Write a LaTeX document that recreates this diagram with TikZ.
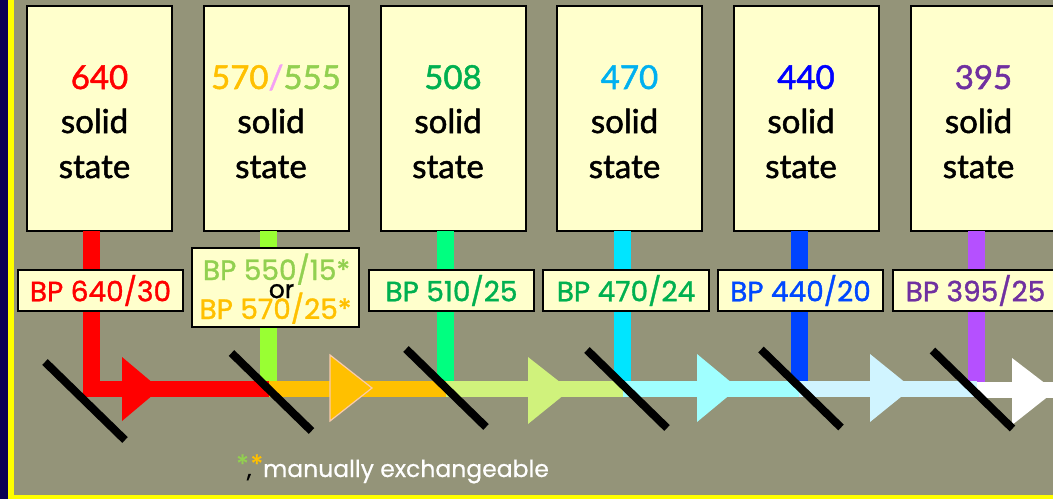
\documentclass[tikz,border=0pt]{standalone}
\usepackage{fontspec}
\setmainfont{Lato}
\newfontfamily\boxf{Lato}[FakeBold=1.5]
\newfontfamily\pop{Poppins}[FakeBold=1.2]
\newfontfamily\popf{Poppins}[FakeBold=0.6]
\definecolor{bgc}{HTML}{949479}
\definecolor{navyc}{HTML}{0A0054}
\definecolor{yelc}{HTML}{FFFF00}
\definecolor{boxc}{HTML}{FFFFCC}
\definecolor{cred}{HTML}{FF0000}
\definecolor{corange}{HTML}{FFC000}
\definecolor{cpink}{HTML}{F4A0F4}
\definecolor{clime}{HTML}{92D050}
\definecolor{cgreen}{HTML}{00B050}
\definecolor{csky}{HTML}{00B0F0}
\definecolor{cblue}{HTML}{0000FF}
\definecolor{cblueb}{HTML}{0048FF}
\definecolor{cpurple}{HTML}{7030A0}
\definecolor{bgreen}{HTML}{99FF33}
\definecolor{bspring}{HTML}{00FF80}
\definecolor{bcyan}{HTML}{00E5FF}
\definecolor{bblue}{HTML}{0044FF}
\definecolor{bpurple}{HTML}{B550FF}
\definecolor{blgreen}{HTML}{D0F27C}
\definecolor{blcyan}{HTML}{A0FFFF}
\definecolor{blblue}{HTML}{D0F4FF}
\definecolor{cpeach}{HTML}{F8CBAD}
\tikzset{
  srcbox/.style={draw=black, line width=2pt, fill=boxc, minimum width=145pt, minimum height=225pt, inner sep=0pt},
  lbl/.style={draw=black, line width=2pt, fill=boxc, minimum height=41pt, inner sep=0pt, font=\pop\fontsize{28}{30}\selectfont},
  lbltxt/.style={anchor=base, inner sep=0pt, font=\pop\fontsize{28}{30}\selectfont},
  boxtxt/.style={anchor=base, inner sep=0pt, font=\boxf\fontsize{33}{36}\selectfont},
  mirror/.style={draw=black, line width=8pt},
}
\begin{document}
\begin{tikzpicture}[x=1pt,y=-1pt]
\useasboundingbox (0,0) rectangle (1053,499);
\begin{scope}
\clip (0,0) rectangle (1053,499);
\fill[bgc] (0,0) rectangle (1053,499);
\fill[navyc] (0,0) rectangle (8,499);
\fill[yelc] (8,0) rectangle (14,499);
\fill[yelc] (8,495) rectangle (1053,499);

% source boxes
\foreach \i/\cx/\num in {1/99.5/{\textcolor{cred}{640}},
  2/276/{\textcolor{corange}{570}\textcolor{cpink}{/}\textcolor{clime}{555}},
  3/453/{\textcolor{cgreen}{508}},
  4/629.5/{\textcolor{csky}{470}},
  5/806/{\textcolor{cblue}{440}},
  6/983.5/{\textcolor{cpurple}{395}}}{
  \node[srcbox] (s\i) at (\cx,118.5) {};
  \node[boxtxt] (n\i) at (\cx,89) {\num};
  \node[boxtxt] (so\i) at (\cx-5,133) {solid};
  \node[boxtxt] (st\i) at (\cx-5,178) {state};
}

% vertical bars
\foreach \cx/\col in {91.5/cred, 268.5/bgreen, 445.5/bspring, 622.5/bcyan, 799/bblue, 976.5/bpurple}{
  \fill[\col] (\cx-8.5,231) rectangle (\cx+8.5,396);
}

% beam segments
\fill[cred] (83,381) rectangle (268.5,397);
\fill[corange] (268.5,381) rectangle (445.5,397);
\fill[blgreen] (445.5,381) rectangle (622.5,397);
\fill[blcyan] (622.5,381) rectangle (799,397);
\fill[blblue] (799,381) rectangle (976.5,397);
\fill[white] (976.5,381.5) rectangle (1060,398);

% arrow heads
\fill[cred] (122,357) -- (160,389) -- (122,421) -- cycle;
\filldraw[fill=corange, draw=cpeach, line width=1.2pt] (330,355) -- (372,388) -- (330,421) -- cycle;
\fill[blgreen] (528,357) -- (570,390) -- (528,424) -- cycle;
\fill[blcyan] (697,354) -- (738,388) -- (697,422) -- cycle;
\fill[blblue] (870,354) -- (912,388) -- (870,422) -- cycle;
\fill[white] (1012,358) -- (1055,391) -- (1012,425) -- cycle;

% mirrors
\foreach \mx/\my in {85/401, 271.5/392, 446/388, 627/389, 801/388.5, 972.5/389.5}{
  \draw[mirror] (\mx-40,\my-39) -- (\mx+40,\my+39);
}

% filter labels
\node[lbl, minimum width=165pt, text=cred] (f1) at (100.5,290.5) {BP 640/30};
\node[lbl, minimum width=167pt, minimum height=79pt] (f2) at (275.5,287.5) {};
\node[lbltxt, text=clime] (f2a) at (276.5,280) {BP 550/15*};
\node[lbltxt, font=\pop\fontsize{25}{26}\selectfont, text=black] (f2b) at (281.5,298) {or};
\node[lbltxt, text=corange] (f2c) at (275.5,319) {BP 570/25*};
\node[lbl, minimum width=165pt, text=cgreen] (f3) at (451.5,290.5) {BP 510/25};
\node[lbl, minimum width=166pt, text=cgreen] (f4) at (626,290.5) {BP 470/24};
\node[lbl, minimum width=165pt, text=cblueb] (f5) at (800.5,290.5) {BP 440/20};
\node[lbl, minimum width=165pt, text=cpurple] (f6) at (975.5,290.5) {BP 395/25};

% footnote
\node[anchor=base west, inner sep=0pt, font=\popf\fontsize{23.5}{26}\selectfont] (foot) at (236,477)
  {\raisebox{0.15em}{\fontsize{26}{28}\selectfont\textcolor{clime}{*}}\kern-2pt,\kern-1pt\raisebox{0.15em}{\fontsize{26}{28}\selectfont\textcolor{corange}{*}}\textcolor{white}{manually exchangeable}};
\end{scope}
\end{tikzpicture}
\end{document}
